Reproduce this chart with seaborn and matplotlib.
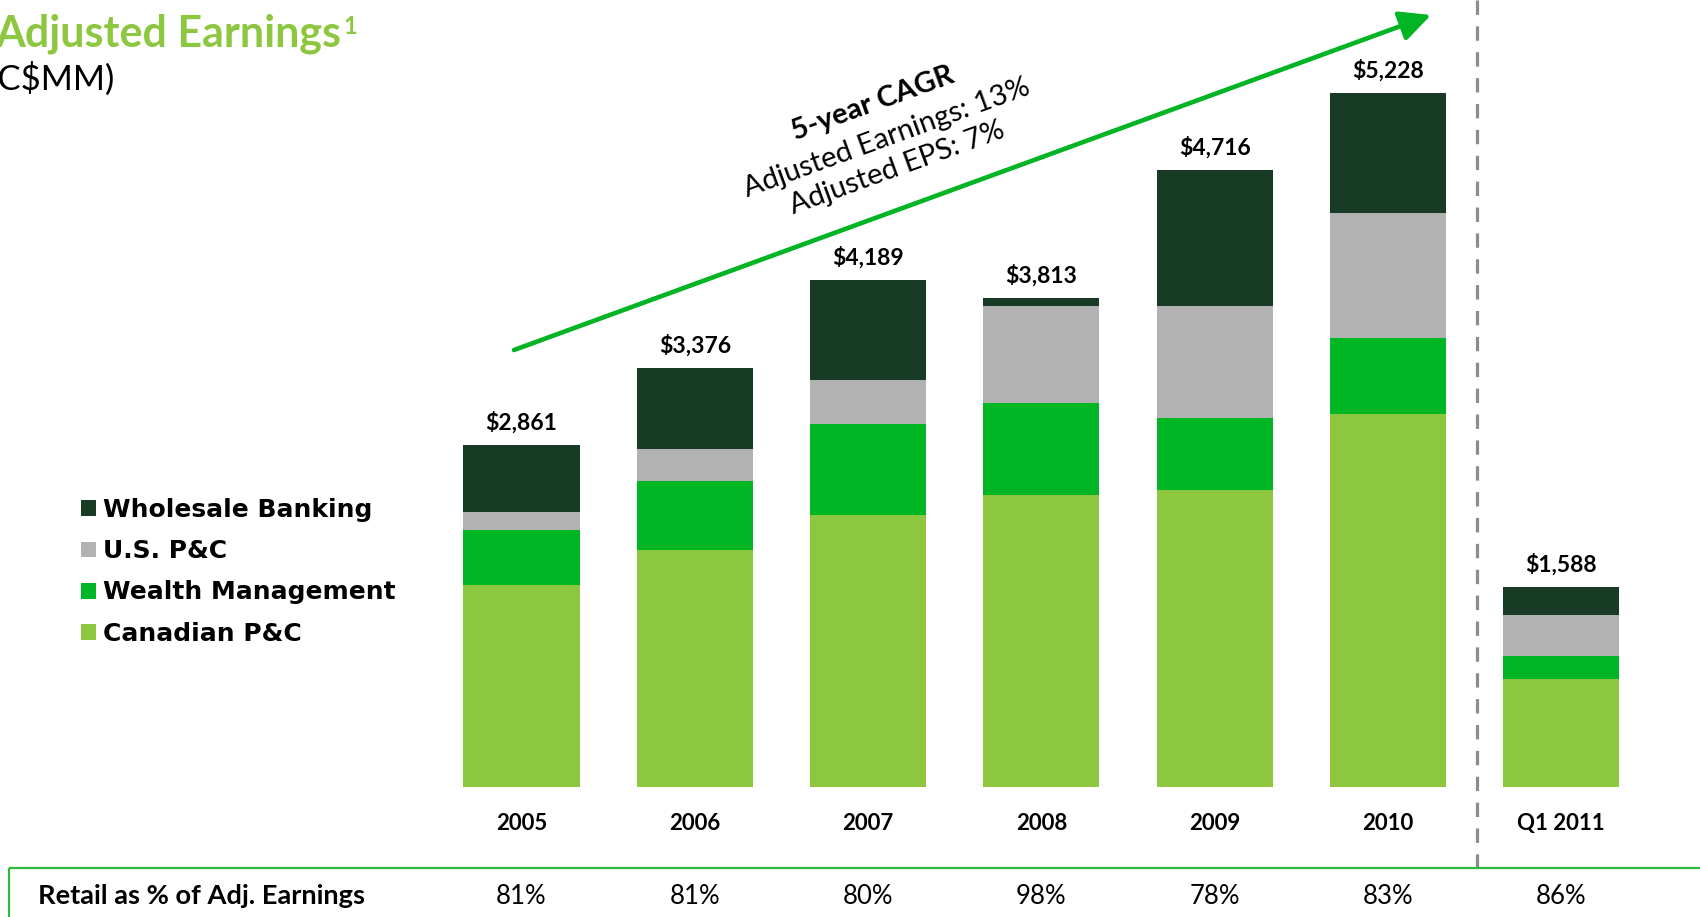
import matplotlib
matplotlib.use("Agg")
import matplotlib.pyplot as plt
import numpy as np
import pandas as pd
import seaborn as sns
from matplotlib.patches import Patch
from matplotlib import transforms

# ---------------- data (C$MM) ----------------
categories = ["2005", "2006", "2007", "2008", "2009", "2010", "Q1 2011"]
canadian_pc = [1680, 1970, 2255, 2425, 2465, 3095, 900]
wealth_mgmt = [450, 570, 755, 765, 600, 630, 185]
us_pc = [150, 265, 365, 805, 925, 1040, 340]
wholesale = [555, 670, 830, 65, 1130, 995, 235]
adjusted_totals = [2861, 3376, 4189, 3813, 4716, 5228, 1588]
retail_pct = [81, 81, 80, 98, 78, 83, 86]
series_names = ["Wholesale Banking", "U.S. P&C", "Wealth Management", "Canadian P&C"]
cagr_lines = ["5-year CAGR", "Adjusted Earnings: 13%", "Adjusted EPS: 7%"]

C_WB = "#173B24"
C_US = "#B2B2B2"
C_WM = "#00B624"
C_CPC = "#8DC63F"
C_ARROW = "#00B424"

sns.set_theme(style="white")
plt.rcParams["font.family"] = ["Lato", "DejaVu Sans"]
plt.rcParams["text.color"] = "black"

W, H = 1700, 917
fig = plt.figure(figsize=(17, 9.17), dpi=100)
base_px = 787
units_per_px = 8.30
ax = fig.add_axes([0, (H - base_px) / H, 1, base_px / H])
ax.patch.set_alpha(0)

df = pd.DataFrame({
    "cat": categories,
    "cpc": canadian_pc,
    "wm": wealth_mgmt,
    "us": us_pc,
    "wb": wholesale,
})
df["c1"] = df["cpc"]
df["c2"] = df["c1"] + df["wm"]
df["c3"] = df["c2"] + df["us"]
df["c4"] = df["c3"] + df["wb"]

for col, color in [("c4", C_WB), ("c3", C_US), ("c2", C_WM), ("c1", C_CPC)]:
    sns.barplot(data=df, x="cat", y=col, color=color, saturation=1, width=0.67,
                errorbar=None, linewidth=0, ax=ax)

pitch = 173.3
ax.set_xlim(-521.5 / pitch, (W - 521.5) / pitch)
ax.set_ylim(0, base_px * units_per_px)
for s in ax.spines.values():
    s.set_visible(False)
ax.set_yticks([])
ax.set_xlabel("")
ax.set_ylabel("")
ax.set_xticks(range(len(categories)))
ax.set_xticklabels(categories)
ax.tick_params(axis="x", length=0, pad=19, labelsize=16, colors="black")
for lbl in ax.get_xticklabels():
    lbl.set_fontweight("bold")

for i, (tot, h) in enumerate(zip(adjusted_totals, df["c4"])):
    ax.annotate(f"${tot:,}", (i, h), xytext=(0, 11), textcoords="offset points",
                ha="center", va="baseline", fontsize=16.5, fontweight="bold", color="black")

# ---------------- overlay in pixel coords ----------------
ax2 = fig.add_axes([0, 0, 1, 1])
ax2.set_xlim(0, W)
ax2.set_ylim(H, 0)
ax2.axis("off")

title = ax2.text(-5, 47, "Adjusted Earnings", color=C_CPC, fontsize=31,
                 fontweight="bold", va="baseline", ha="left")
ax2.text(-12, 90, "(C$MM)", color="black", fontsize=25, va="baseline", ha="left")

ax2.annotate("", xy=(1431, 15), xytext=(514, 350),
             arrowprops=dict(arrowstyle="-|>,head_length=0.47,head_width=0.23",
                             color=C_ARROW, lw=3.3, shrinkA=0, shrinkB=0,
                             mutation_scale=40))

cagr_pos = [(873, 104), (887, 138), (897, 168)]
for k, (txt, (px, py)) in enumerate(zip(cagr_lines, cagr_pos)):
    ax2.text(px, py, txt, rotation=20, rotation_mode="anchor", ha="center",
             va="center", fontsize=21, fontweight="bold" if k == 0 else "normal",
             color="black")

ax2.plot([1477, 1477], [0, 868], color="#8C8C8C", lw=2.3, linestyle=(0, (4.5, 3.6)))
ax2.plot([9, W], [868, 868], color="#2EB840", lw=1.6, solid_capstyle="butt")
ax2.plot([9, 9], [868, H], color="#2EB840", lw=1.6, solid_capstyle="butt")

ax2.text(38, 896, "Retail as % of Adj. Earnings", fontsize=19.6, fontweight="bold",
         va="center", ha="left", color="black")
blend = transforms.blended_transform_factory(ax.transData, ax2.transData)
for i, p in enumerate(retail_pct):
    ax2.text(i, 896, f"{p}%", transform=blend, ha="center", va="center",
             fontsize=18.5, color="black")

handles = [Patch(facecolor=c, edgecolor="none", linewidth=0) for c in [C_WB, C_US, C_WM, C_CPC]]
leg = fig.legend(handles, series_names, loc="upper left",
                 bbox_to_anchor=(81 / W, 1 - 498 / H), frameon=False,
                 prop=dict(family="DejaVu Sans", weight="bold", size=18),
                 handlelength=0.6, handleheight=0.6, handletextpad=0.28,
                 labelspacing=0.69, borderpad=0, borderaxespad=0)
for t in leg.get_texts():
    t.set_color("black")

# superscript footnote marker placed right after the title
fig.canvas.draw()
bb = title.get_window_extent(renderer=fig.canvas.get_renderer())
x_end = bb.x1  # display pixels == figure pixels at dpi 100
ax2.text(x_end + 2, 34, "1", color=C_CPC, fontsize=17, fontweight="bold",
         va="baseline", ha="left")

fig.savefig("out.png", dpi=100)
